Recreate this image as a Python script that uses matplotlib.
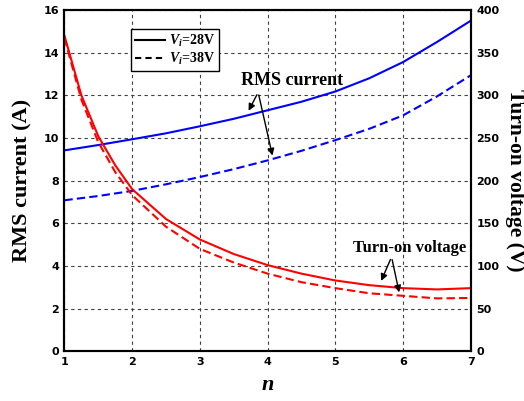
import matplotlib
matplotlib.use("Agg")
import matplotlib.pyplot as plt
import numpy as np

plt.rcParams['mathtext.fontset'] = 'custom'
plt.rcParams['mathtext.it'] = 'Liberation Serif:italic:bold'
plt.rcParams['mathtext.rm'] = 'Liberation Serif:bold'

# RMS current (A) vs n
n_rms = [1, 1.5, 2, 2.5, 3, 3.5, 4, 4.5, 5, 5.5, 6, 6.5, 7]
rms_28 = [9.42, 9.67, 9.94, 10.22, 10.55, 10.9, 11.3, 11.7, 12.18, 12.8, 13.56, 14.5, 15.5]
rms_38 = [7.08, 7.28, 7.52, 7.83, 8.17, 8.54, 8.95, 9.4, 9.9, 10.43, 11.06, 11.95, 12.94]

# turn-on voltage (V) vs n
n_von = [1, 1.25, 1.5, 1.75, 2, 2.5, 3, 3.5, 4, 4.5, 5, 5.5, 6, 6.5, 7]
von_28 = [370, 300, 252, 218, 190, 155, 131, 114, 101, 91, 83, 77.5, 74, 72.5, 74]
von_38 = [367, 295, 245, 210, 183, 146, 120, 104, 91, 81, 74, 68, 65, 62, 62.5]

serif = 'Liberation Serif'
tickfont = dict(family='DejaVu Sans', weight='bold', size=8)

fig = plt.figure(figsize=(5.24, 4.01), dpi=100)
ax = fig.add_axes([0.123, 0.124, 0.7755, 0.851])
ax2 = ax.twinx()

dash = (0, (4, 2))
ax.plot(n_rms, rms_28, color='#0000ff', lw=1.5)
ax.plot(n_rms, rms_38, color='#0000ff', lw=1.5, linestyle=dash)
ax2.plot(n_von, von_28, color='#ff0000', lw=1.5)
ax2.plot(n_von, von_38, color='#ff0000', lw=1.5, linestyle=dash)

ax.set_xlim(1, 7)
ax.set_ylim(0, 16)
ax2.set_ylim(0, 400)
ax.set_xticks(range(1, 8))
ax.set_yticks(range(0, 17, 2))
ax2.set_yticks(range(0, 401, 50))
ax.grid(True, color='0.25', linestyle=(0, (3, 3)), lw=0.8)

for a in (ax, ax2):
    a.tick_params(length=0, pad=4)
    for lab in a.get_xticklabels() + a.get_yticklabels():
        lab.set_fontproperties(tickfont)
    for s in a.spines.values():
        s.set_linewidth(1.5)

ax.set_xlabel('n', family=serif, style='italic', weight='bold', fontsize=16, labelpad=6)
ax.set_ylabel('RMS current (A)', family=serif, weight='bold', fontsize=16, labelpad=8)
ax2.set_ylabel('Turn-on voltage (V)', family=serif, weight='bold', fontsize=15.5,
               rotation=270, va='bottom', labelpad=4)

# legend
h1, = ax.plot([], [], color='black', lw=1.5)
h2, = ax.plot([], [], color='black', lw=1.5, linestyle=(0, (3, 2)))
leg = ax.legend([h1, h2], [r'$V_i$=28V', r'$V_i$=38V'], loc='upper left',
                bbox_to_anchor=(0.164, 0.943), prop=dict(family=serif, weight='bold', size=10),
                fancybox=False, edgecolor='black', framealpha=1, handlelength=2.2,
                borderpad=0.25, labelspacing=0.15, handletextpad=0.3, borderaxespad=0)
leg.get_frame().set_linewidth(1.0)
leg.set_zorder(5)

# annotations
ax.text(4.36, 12.7, 'RMS current', family=serif, weight='bold', fontsize=13,
        ha='center', va='center')
arr = dict(arrowstyle='-|>', color='black', lw=1.0, mutation_scale=10)
ax.annotate('', xy=(3.70, 11.16), xytext=(3.86, 12.14), arrowprops=arr)
ax.annotate('', xy=(4.08, 9.05), xytext=(3.86, 12.14), arrowprops=arr)

ax2.text(6.1, 121, 'Turn-on voltage', family=serif, weight='bold', fontsize=12,
         ha='center', va='center')
ax2.annotate('', xy=(5.66, 79.5), xytext=(5.83, 110.6), arrowprops=arr)
ax2.annotate('', xy=(5.95, 65.8), xytext=(5.83, 110.6), arrowprops=arr)

fig.savefig('out.png', dpi=100)
